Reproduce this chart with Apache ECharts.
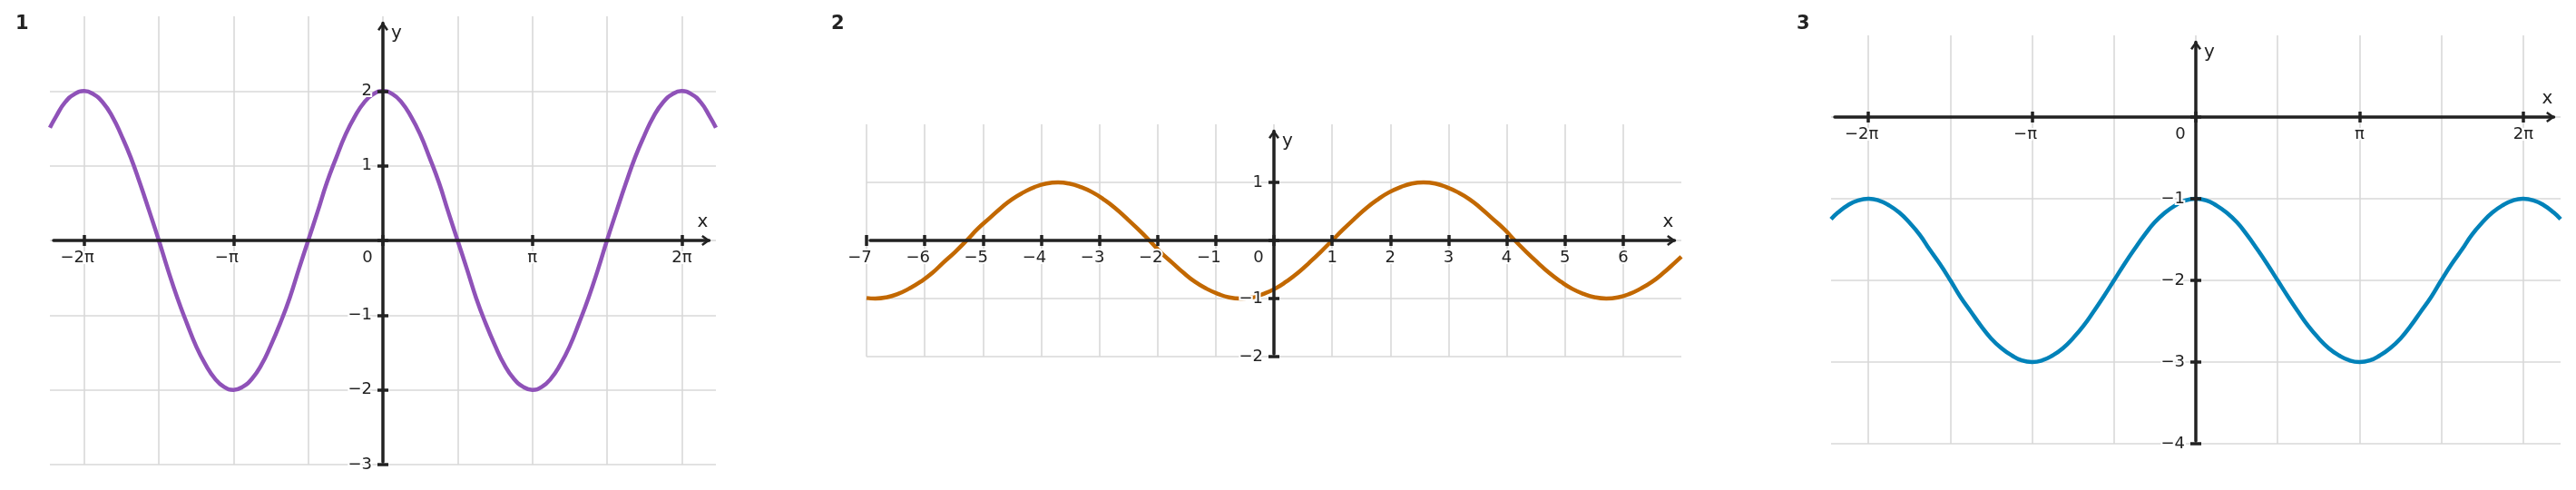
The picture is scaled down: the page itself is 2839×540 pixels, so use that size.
<!DOCTYPE html>
<html>
<head>
<meta charset="utf-8">
<script src="https://cdn.jsdelivr.net/npm/echarts@6/dist/echarts.min.js"></script>
<style>
html, body { margin: 0; padding: 0; background: #fff; }
#chart { width: 2839px; height: 540px; }
</style>
</head>
<body>
<div id="chart"></div>
<script>
var PI = Math.PI;

// panel 1 - curve points
var p1X = [-7, -6.87, -6.68, -6.48, -6.28, -6.09, -5.89, -5.69, -5.50, -5.30, -5.11, -4.91, -4.71, -4.52, -4.32, -4.12, -3.93, -3.73,
    -3.53, -3.34, -3.14, -2.95, -2.75, -2.55, -2.36, -2.16, -1.96, -1.77, -1.57, -1.37, -1.18, -0.98, -0.79, -0.59, -0.39, -0.20,
    0, 0.20, 0.39, 0.59, 0.79, 0.98, 1.18, 1.37, 1.57, 1.77, 1.96, 2.16, 2.36, 2.55, 2.75, 2.95, 3.14, 3.34, 3.53, 3.73,
    3.93, 4.12, 4.32, 4.52, 4.71, 4.91, 5.11, 5.30, 5.50, 5.69, 5.89, 6.09, 6.28, 6.48, 6.68, 6.87, 7];
var p1Y = [1.51, 1.66, 1.85, 1.96, 2, 1.96, 1.85, 1.66, 1.41, 1.11, 0.77, 0.39, 0, -0.39, -0.77, -1.11, -1.41, -1.66,
    -1.85, -1.96, -2, -1.96, -1.85, -1.66, -1.41, -1.11, -0.77, -0.39, 0, 0.39, 0.77, 1.11, 1.41, 1.66, 1.85, 1.96,
    2, 1.96, 1.85, 1.66, 1.41, 1.11, 0.77, 0.39, 0, -0.39, -0.77, -1.11, -1.41, -1.66, -1.85, -1.96, -2, -1.96, -1.85, -1.66,
    -1.41, -1.11, -0.77, -0.39, 0, 0.39, 0.77, 1.11, 1.41, 1.66, 1.85, 1.96, 2, 1.96, 1.85, 1.66, 1.51];
var p1XTicks = [-2 * PI, -PI, 0, PI, 2 * PI];
var p1XLabels = ['−2π', '−π', '0', 'π', '2π'];
var p1GridX = [-2 * PI, -1.5 * PI, -PI, -0.5 * PI, 0, 0.5 * PI, PI, 1.5 * PI, 2 * PI];
var p1YTicks = [-3, -2, -1, 0, 1, 2];
var p1YLabelValues = [-3, -2, -1, 1, 2];
var p1YLabels = ['−3', '−2', '−1', '1', '2'];

// panel 2
var p2X = [-7, -6.85, -6.66, -6.46, -6.27, -6.07, -5.87, -5.68, -5.48, -5.28, -5.09, -4.89, -4.69, -4.50, -4.30, -4.11, -3.91, -3.71,
    -3.52, -3.32, -3.12, -2.93, -2.73, -2.53, -2.34, -2.14, -1.95, -1.75, -1.55, -1.36, -1.16, -0.96, -0.77, -0.57, -0.37, -0.18,
    0.02, 0.21, 0.41, 0.61, 0.80, 1, 1.20, 1.39, 1.59, 1.79, 1.98, 2.18, 2.37, 2.57, 2.77, 2.96, 3.16, 3.36, 3.55, 3.75,
    3.95, 4.14, 4.34, 4.53, 4.73, 4.93, 5.12, 5.32, 5.52, 5.71, 5.91, 6.11, 6.30, 6.50, 6.69, 6.89, 7];
var p2Y = [-0.99, -1, -0.98, -0.92, -0.83, -0.71, -0.56, -0.38, -0.20, 0, 0.20, 0.38, 0.56, 0.71, 0.83, 0.92, 0.98, 1,
    0.98, 0.92, 0.83, 0.71, 0.56, 0.38, 0.20, 0, -0.20, -0.38, -0.56, -0.71, -0.83, -0.92, -0.98, -1, -0.98, -0.92,
    -0.83, -0.71, -0.56, -0.38, -0.20, 0, 0.20, 0.38, 0.56, 0.71, 0.83, 0.92, 0.98, 1, 0.98, 0.92, 0.83, 0.71, 0.56, 0.38,
    0.20, 0, -0.20, -0.38, -0.56, -0.71, -0.83, -0.92, -0.98, -1, -0.98, -0.92, -0.83, -0.71, -0.56, -0.38, -0.28];
var p2XTicks = [-7, -6, -5, -4, -3, -2, -1, 0, 1, 2, 3, 4, 5, 6];
var p2XLabels = ['−7', '−6', '−5', '−4', '−3', '−2', '−1', '0', '1', '2', '3', '4', '5', '6'];
var p2GridX = [-7, -6, -5, -4, -3, -2, -1, 0, 1, 2, 3, 4, 5, 6];
var p2YTicks = [-2, -1, 0, 1];
var p2YLabelValues = [-2, -1, 1];
var p2YLabels = ['−2', '−1', '1'];

// panel 3
var p3X = [-7, -6.87, -6.68, -6.48, -6.28, -6.09, -5.89, -5.69, -5.50, -5.30, -5.11, -4.91, -4.71, -4.52, -4.32, -4.12, -3.93, -3.73,
    -3.53, -3.34, -3.14, -2.95, -2.75, -2.55, -2.36, -2.16, -1.96, -1.77, -1.57, -1.37, -1.18, -0.98, -0.79, -0.59, -0.39, -0.20,
    0, 0.20, 0.39, 0.59, 0.79, 0.98, 1.18, 1.37, 1.57, 1.77, 1.96, 2.16, 2.36, 2.55, 2.75, 2.95, 3.14, 3.34, 3.53, 3.73,
    3.93, 4.12, 4.32, 4.52, 4.71, 4.91, 5.11, 5.30, 5.50, 5.69, 5.89, 6.09, 6.28, 6.48, 6.68, 6.87, 7];
var p3Y = [-1.25, -1.17, -1.08, -1.02, -1, -1.02, -1.08, -1.17, -1.29, -1.44, -1.62, -1.80, -2, -2.20, -2.38, -2.56, -2.71, -2.83,
    -2.92, -2.98, -3, -2.98, -2.92, -2.83, -2.71, -2.56, -2.38, -2.20, -2, -1.80, -1.62, -1.44, -1.29, -1.17, -1.08, -1.02,
    -1, -1.02, -1.08, -1.17, -1.29, -1.44, -1.62, -1.80, -2, -2.20, -2.38, -2.56, -2.71, -2.83, -2.92, -2.98, -3, -2.98, -2.92, -2.83,
    -2.71, -2.56, -2.38, -2.20, -2, -1.80, -1.62, -1.44, -1.29, -1.17, -1.08, -1.02, -1, -1.02, -1.08, -1.17, -1.25];
var p3XTicks = [-2 * PI, -PI, 0, PI, 2 * PI];
var p3XLabels = ['−2π', '−π', '0', 'π', '2π'];
var p3GridX = [-2 * PI, -1.5 * PI, -PI, -0.5 * PI, 0, 0.5 * PI, PI, 1.5 * PI, 2 * PI];
var p3YTicks = [-4, -3, -2, -1, 0];
var p3YLabelValues = [-4, -3, -2, -1];
var p3YLabels = ['−4', '−3', '−2', '−1'];

var panels = [
    { title: '1', titleLeft: 17, box: { left: 55, top: 18, width: 734, height: 494 },
      xMin: -7, xMax: 7, yMin: -3, yMax: 3, xs: p1X, ys: p1Y, color: '#8f52b8',
      gridX: p1GridX, xTicks: p1XTicks, xLabels: p1XLabels,
      yTicks: p1YTicks, yLabelValues: p1YLabelValues, yLabels: p1YLabels },
    { title: '2', titleLeft: 916, box: { left: 955, top: 137, width: 898, height: 256 },
      xMin: -7, xMax: 7, yMin: -2, yMax: 2, xs: p2X, ys: p2Y, color: '#c26800',
      gridX: p2GridX, xTicks: p2XTicks, xLabels: p2XLabels,
      yTicks: p2YTicks, yLabelValues: p2YLabelValues, yLabels: p2YLabels },
    { title: '3', titleLeft: 1980, box: { left: 2018, top: 39, width: 804, height: 450 },
      xMin: -7, xMax: 7, yMin: -4, yMax: 1, xs: p3X, ys: p3Y, color: '#0082b9',
      gridX: p3GridX, xTicks: p3XTicks, xLabels: p3XLabels,
      yTicks: p3YTicks, yLabelValues: p3YLabelValues, yLabels: p3YLabels }
];

var INK = '#222';
var FONT = 'DejaVu Sans';
var ARROW = 'path://M6,0L12,8.4L9.9,9.9L6,4.4L2.1,9.9L0,8.4Z';
// axis lines stop a little short of the grid edges
var INSET = { left: 4, right: 7.5, top: 7.5, bottom: 3 };

function pick(values, labels, v) {
    for (var i = 0; i < values.length; i++) {
        if (Math.abs(values[i] - v) < 1e-6) return labels[i];
    }
    return '';
}

var labelRich = {
    n: { fontFamily: FONT, fontSize: 18, color: INK, textBorderColor: '#fff', textBorderWidth: 4, padding: [0, 15, 0, 0] },
    z: { fontFamily: FONT, fontSize: 18, color: INK, textBorderColor: '#fff', textBorderWidth: 4, padding: [0, 34, 0, 0] },
    p: { fontFamily: FONT, fontSize: 18, color: INK, textBorderColor: '#fff', textBorderWidth: 4 }
};

var option = {
    backgroundColor: '#fff',
    animation: false,
    title: [], grid: [], xAxis: [], yAxis: [], series: []
};

panels.forEach(function (p) {
    var g = option.grid.length;
    var xi = option.xAxis.length;
    var yi = option.yAxis.length;
    var b = p.box;
    var sx = b.width / (p.xMax - p.xMin);
    var sy = b.height / (p.yMax - p.yMin);
    // labelled axes are moved onto the zero lines with offset
    var xZeroOffset = -(0 - p.yMin) * sy;
    var yZeroOffset = -(0 - p.xMin) * sx;

    option.title.push({
        text: p.title, left: p.titleLeft, top: 16, padding: 0,
        textStyle: { fontFamily: FONT, fontWeight: 'bold', fontSize: 21, color: INK }
    });

    option.grid.push({ left: b.left, top: b.top, width: b.width, height: b.height, outerBoundsMode: 'none', containLabel: false });
    option.grid.push({
        left: b.left + INSET.left, top: b.top + INSET.top,
        width: b.width - INSET.left - INSET.right, height: b.height - INSET.top - INSET.bottom,
        outerBoundsMode: 'none', containLabel: false
    });

    var tickStyle = { color: INK, width: 3.5 };

    // x: ticks + labels (down), ticks (up), grid lines, axis line with arrow
    option.xAxis.push({
        gridIndex: g, type: 'value', min: p.xMin, max: p.xMax, position: 'bottom', offset: xZeroOffset, z: 5,
        axisLine: { show: false, onZero: false },
        axisTick: { show: true, length: 6, customValues: p.xTicks, lineStyle: tickStyle },
        axisLabel: {
            show: true, customValues: p.xTicks, margin: 10, rich: labelRich,
            formatter: function (v) {
                var t = pick(p.xTicks, p.xLabels, v);
                if (t === '0') return '{z|0}';
                if (t.charAt(0) === '−') return '{n|' + t + '}';
                return '{p|' + t + '}';
            }
        },
        splitLine: { show: false }
    });
    option.xAxis.push({
        gridIndex: g, type: 'value', min: p.xMin, max: p.xMax, position: 'top', z: 5,
        axisLine: { show: false, onZero: true, onZeroAxisIndex: yi + 2 },
        axisTick: { show: true, length: 6, customValues: p.xTicks, lineStyle: tickStyle },
        axisLabel: { show: false },
        splitLine: { show: false }
    });
    option.xAxis.push({
        gridIndex: g, type: 'value', min: p.xMin, max: p.xMax, position: 'bottom', z: 0,
        axisLine: { show: false, onZero: false },
        axisTick: { show: false, customValues: p.gridX },
        axisLabel: { show: false },
        splitLine: { show: true, lineStyle: { color: '#d9d9d9', width: 1.6 } }
    });
    option.xAxis.push({
        gridIndex: g + 1, type: 'value',
        min: p.xMin + INSET.left / sx, max: p.xMax - INSET.right / sx, position: 'bottom', z: 5,
        axisLine: {
            show: true, onZero: true, onZeroAxisIndex: yi + 3,
            lineStyle: { color: INK, width: 3.5 },
            symbol: ['none', ARROW], symbolSize: [12, 10], symbolOffset: [0, -3.5]
        },
        axisTick: { show: false }, axisLabel: { show: false }, splitLine: { show: false },
        name: 'x', nameLocation: 'end', nameGap: -7, nameMoveOverlap: false,
        nameTextStyle: { fontFamily: FONT, fontSize: 20, color: INK, align: 'center', verticalAlign: 'bottom', padding: [0, 0, 10, 0] }
    });

    // y: ticks + labels (left), ticks (right), grid lines, axis line with arrow
    option.yAxis.push({
        gridIndex: g, type: 'value', min: p.yMin, max: p.yMax, position: 'left', offset: yZeroOffset, z: 5,
        axisLine: { show: false, onZero: false },
        axisTick: { show: true, length: 6, customValues: p.yTicks, lineStyle: tickStyle },
        axisLabel: {
            show: true, customValues: p.yLabelValues, margin: 12,
            fontFamily: FONT, fontSize: 18, color: INK, textBorderColor: '#fff', textBorderWidth: 4,
            formatter: function (v) { return pick(p.yLabelValues, p.yLabels, v); }
        },
        splitLine: { show: false }
    });
    option.yAxis.push({
        gridIndex: g, type: 'value', min: p.yMin, max: p.yMax, position: 'right', z: 5,
        axisLine: { show: false, onZero: true, onZeroAxisIndex: xi + 2 },
        axisTick: { show: true, length: 6, customValues: p.yTicks, lineStyle: tickStyle },
        axisLabel: { show: false },
        splitLine: { show: false }
    });
    option.yAxis.push({
        gridIndex: g, type: 'value', min: p.yMin, max: p.yMax, position: 'left', z: 0,
        axisLine: { show: false, onZero: false },
        axisTick: { show: false, customValues: p.yTicks },
        axisLabel: { show: false },
        splitLine: { show: true, lineStyle: { color: '#d9d9d9', width: 1.6 } }
    });
    option.yAxis.push({
        gridIndex: g + 1, type: 'value',
        min: p.yMin + INSET.bottom / sy, max: p.yMax - INSET.top / sy, position: 'left', z: 5,
        axisLine: {
            show: true, onZero: true, onZeroAxisIndex: xi + 3,
            lineStyle: { color: INK, width: 3.5 },
            symbol: ['none', ARROW], symbolSize: [12, 10], symbolOffset: [0, -3.5]
        },
        axisTick: { show: false }, axisLabel: { show: false }, splitLine: { show: false },
        name: 'y', nameLocation: 'end', nameGap: -1.5, nameMoveOverlap: false,
        nameTextStyle: { fontFamily: FONT, fontSize: 20, color: INK, align: 'left', verticalAlign: 'top', padding: [0, 0, 0, 9] }
    });

    option.series.push({
        type: 'line', xAxisIndex: xi + 2, yAxisIndex: yi + 2, z: 2,
        data: p.xs.map(function (x, j) { return [x, p.ys[j]]; }),
        smooth: true, showSymbol: false, symbol: 'none', silent: true,
        lineStyle: { color: p.color, width: 4.5 }, itemStyle: { color: p.color }
    });
});

var chart = echarts.init(document.getElementById('chart'));
chart.setOption(option);
window.addEventListener('resize', chart.resize);
</script>
</body>
</html>
